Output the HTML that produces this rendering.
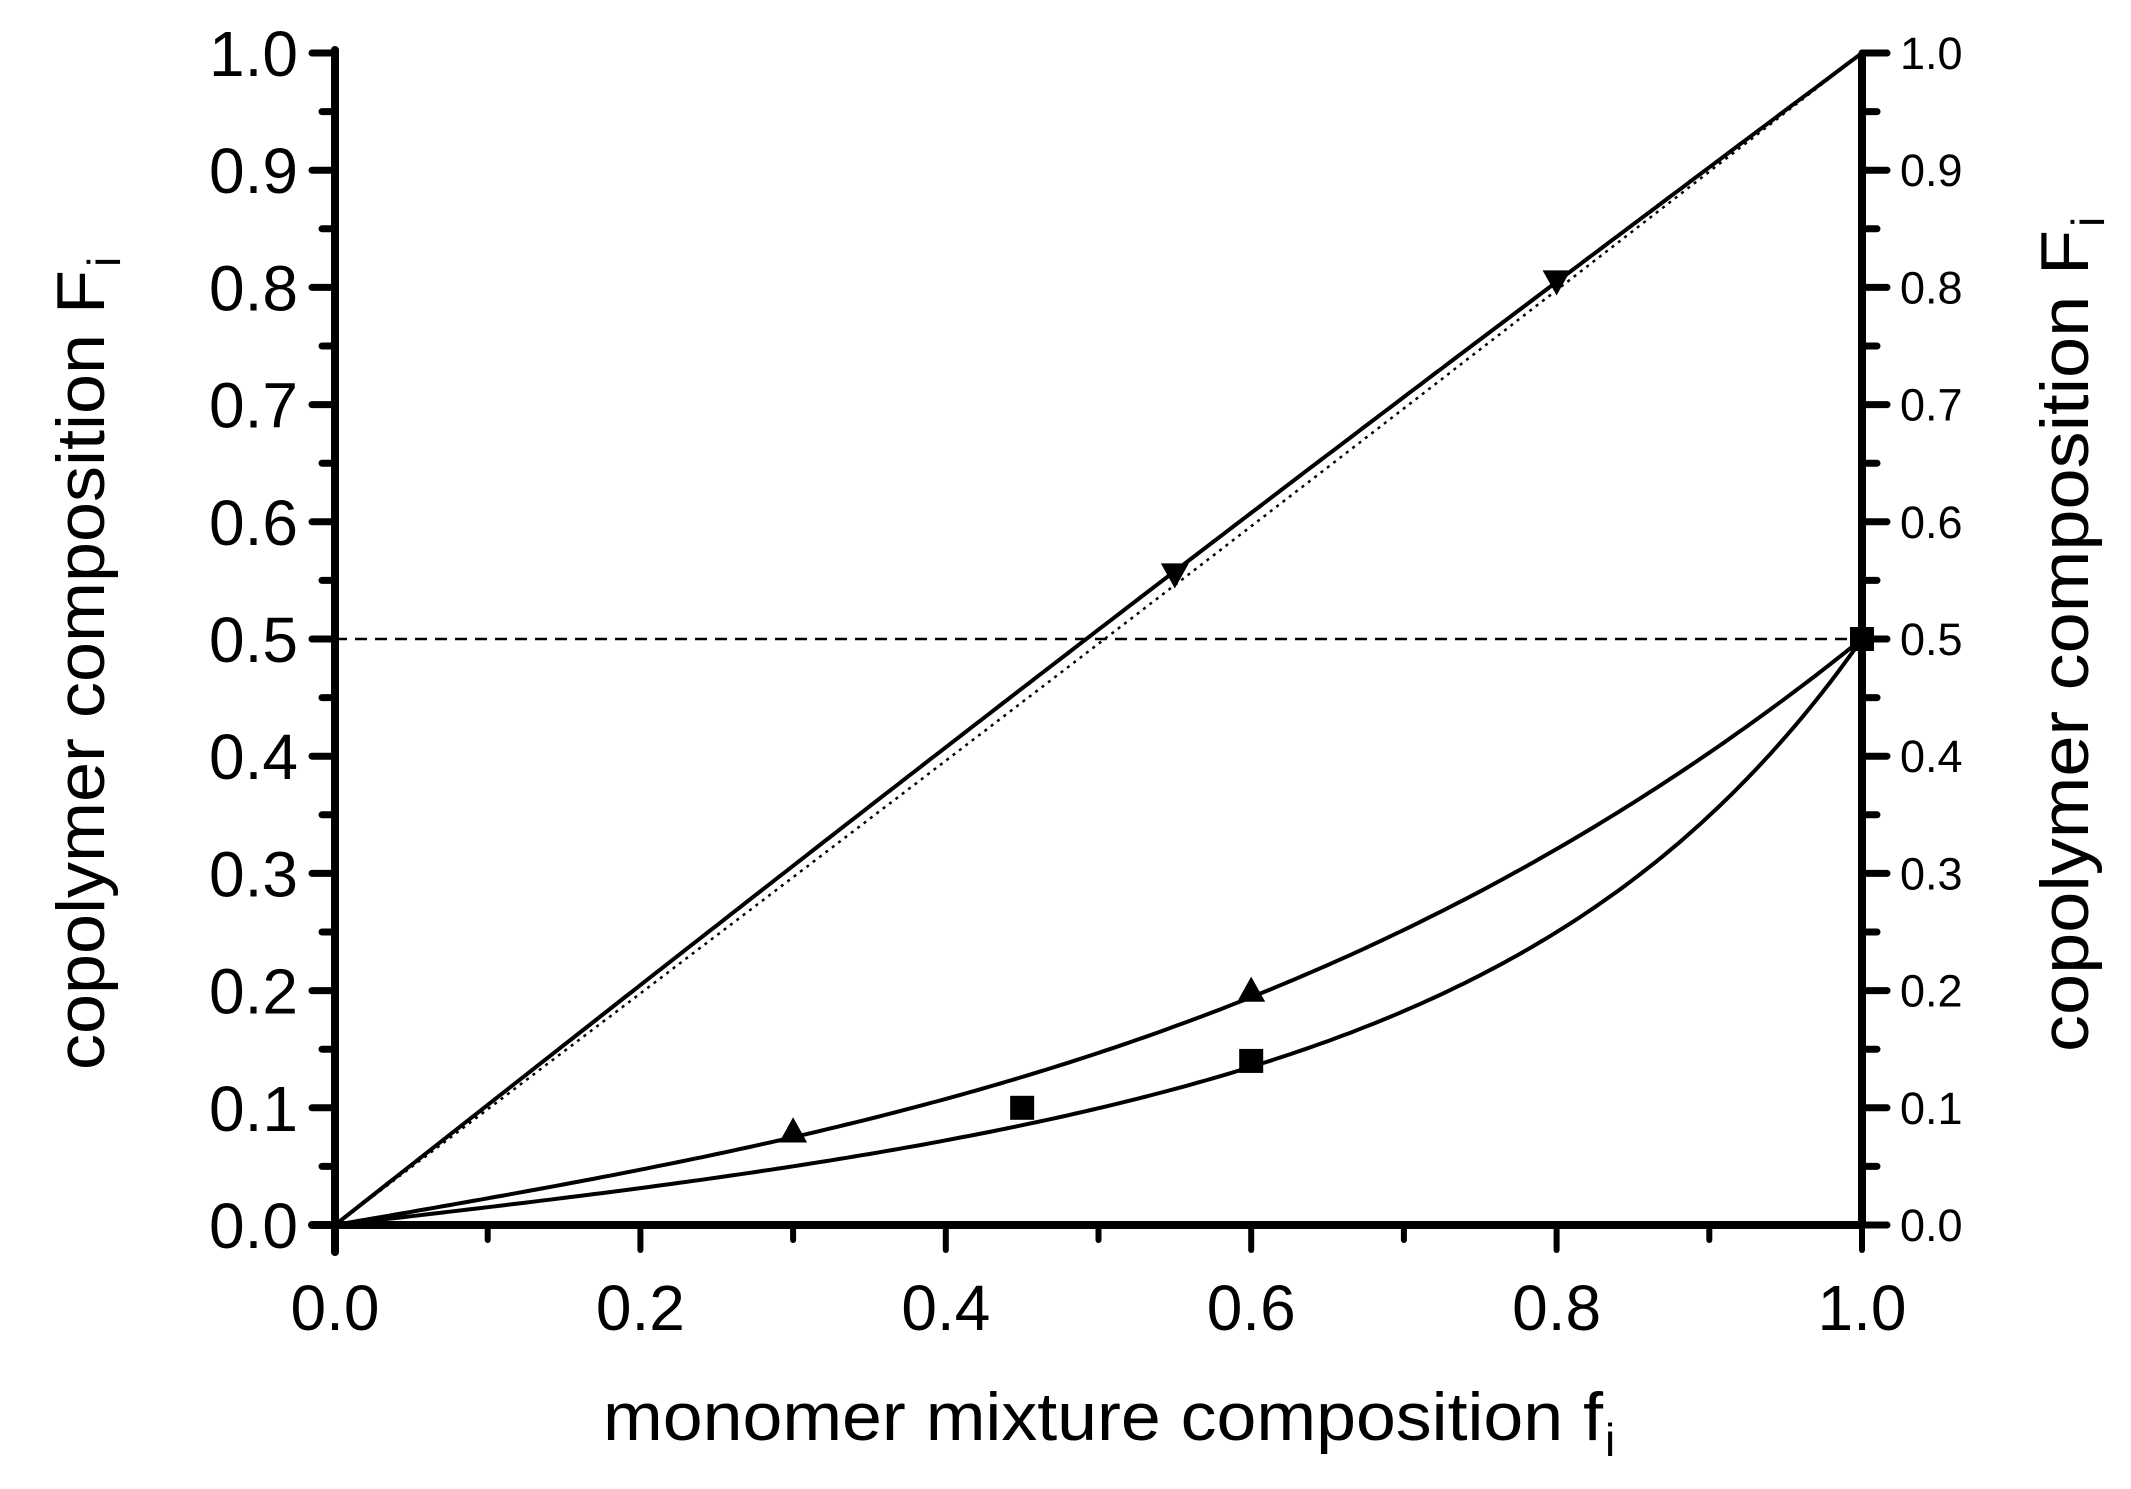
<!DOCTYPE html>
<html><head><meta charset="utf-8"><style>
html,body{margin:0;padding:0;background:#fff;}
svg{display:block;}
text{font-family:"Liberation Sans",Arial,sans-serif;fill:#000;}
</style></head><body>
<svg id="s" width="2131" height="1489" viewBox="0 0 2131 1489" xmlns="http://www.w3.org/2000/svg">
<g id="g"></g>
<text x="603" y="1440" font-size="68" textLength="1000" lengthAdjust="spacingAndGlyphs">monomer mixture composition f</text>
<text x="1605" y="1456" font-size="46">i</text>
<g transform="translate(104,1070) rotate(-90)"><text x="0" y="0" font-size="68" textLength="800" lengthAdjust="spacingAndGlyphs">copolymer composition F</text><text x="803" y="16" font-size="46">i</text></g>
<g transform="translate(2088,1052) rotate(-90)"><text x="0" y="0" font-size="68" textLength="822" lengthAdjust="spacingAndGlyphs">copolymer composition F</text><text x="825" y="16" font-size="46">i</text></g>
</svg>
<script>
var X=f=>335+1527*f, Y=F=>1225-1172*F;
var h='';
function path(fn,attrs){var d='';for(var i=0;i<=200;i++){var f=i/200;d+=(i?'L':'M')+X(f).toFixed(1)+' '+Y(fn(f)).toFixed(1);}h+='<path d="'+d+'" fill="none" stroke="#000" '+attrs+'/>';}
h+='<line x1="'+X(0)+'" y1="'+Y(0.5)+'" x2="'+X(1)+'" y2="'+Y(0.5)+'" stroke="#000" stroke-width="2.5" stroke-dasharray="12,8"/>';
path(f=>f-0.004*Math.sin(Math.PI*f),'stroke-width="2.5" stroke-dasharray="3,5"');
path(f=>f+0.008*Math.sin(Math.PI*f),'stroke-width="4"');
path(f=>f*(0.225+0.275*f*f),'stroke-width="4"');
path(f=>f*(0.15+0.187*f*f+0.163*Math.pow(f,6)),'stroke-width="4"');
var s=14;
[[0.3,0.08],[0.6,0.2]].forEach(p=>{var x=X(p[0]),y=Y(p[1]);h+='<polygon points="'+x+','+(y-s)+' '+(x-s)+','+(y+s*0.8)+' '+(x+s)+','+(y+s*0.8)+'"/>';});
[[0.55,0.555],[0.8,0.805]].forEach(p=>{var x=X(p[0]),y=Y(p[1]);h+='<polygon points="'+x+','+(y+s)+' '+(x-s)+','+(y-s*0.8)+' '+(x+s)+','+(y-s*0.8)+'"/>';});
[[0.45,0.1],[0.6,0.14],[1,0.5]].forEach(p=>{var x=X(p[0]),y=Y(p[1]);h+='<rect x="'+(x-12)+'" y="'+(y-12)+'" width="24" height="24"/>';});
h+='<line x1="335" y1="50" x2="335" y2="1252" stroke="#000" stroke-width="8" stroke-linecap="round"/>';
h+='<line x1="312" y1="1225" x2="1862" y2="1225" stroke="#000" stroke-width="8" stroke-linecap="round"/>';
h+='<line x1="1862" y1="53" x2="1862" y2="1225" stroke="#000" stroke-width="8"/>';
for(var i=0;i<=20;i++){var F=i/20,y=Y(F),maj=i%2==0;
 h+='<line x1="'+(maj?312:322)+'" y1="'+y+'" x2="335" y2="'+y+'" stroke="#000" stroke-width="7" stroke-linecap="round"/>';
 h+='<line x1="1862" y1="'+y+'" x2="'+(maj?1887:1877)+'" y2="'+y+'" stroke="#000" stroke-width="7" stroke-linecap="round"/>';
 if(maj){var t=(F).toFixed(1);
  h+='<text x="298" y="'+(y+23)+'" font-size="64" text-anchor="end">'+t+'</text>';
  h+='<text x="1900" y="'+(y+16)+'" font-size="45">'+t+'</text>';}
}
for(var i=0;i<=10;i++){var f=i/10,x=X(f),maj=i%2==0;
 h+='<line x1="'+x+'" y1="1225" x2="'+x+'" y2="'+(maj?1250:1240)+'" stroke="#000" stroke-width="6" stroke-linecap="round"/>';
 if(maj)h+='<text x="'+x+'" y="1330" font-size="64" text-anchor="middle">'+f.toFixed(1)+'</text>';
}
document.getElementById('g').innerHTML=h;
</script>
</body></html>
